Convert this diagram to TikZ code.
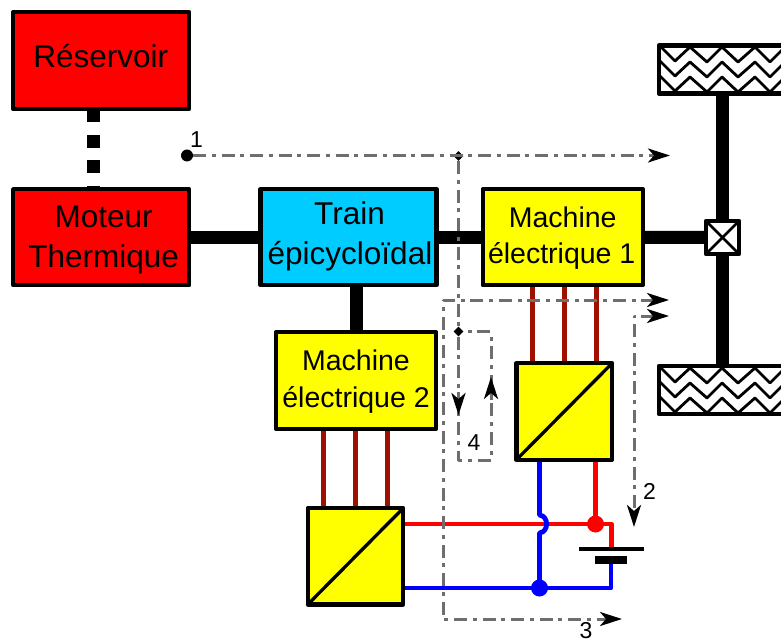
\documentclass[tikz,border=0pt]{standalone}
\usepackage{fontspec}
\setmainfont{Liberation Sans}
\usetikzlibrary{arrows.meta,shapes.geometric}
\definecolor{wirered}{HTML}{A01000}
\definecolor{pathgrey}{HTML}{6E6E6E}
\definecolor{traincyan}{HTML}{00CCFF}
\definecolor{boxyellow}{HTML}{FFFF00}
\definecolor{boxred}{HTML}{FF0000}
\definecolor{wireblue}{HTML}{0000FF}
\newcommand{\lineat}[3]{\makebox[0pt]{\raisebox{#2}[0pt][0pt]{\hspace*{#1}#3}}}
\tikzset{
  x=1pt,y=-1pt,
  headend/.tip={Stealth[length=22pt,width=14pt,inset=6pt,black]},
  boxbase/.style={draw=black,line width=4.3pt,line join=round,inner sep=0pt,align=center},
  bigbox/.style={boxbase,font=\fontsize{31.5}{40}\selectfont,minimum width=176pt,minimum height=96pt},
  redbox/.style={bigbox,fill=boxred},
  cyanbox/.style={bigbox,fill=traincyan},
  machbox/.style={boxbase,fill=boxyellow,font=\fontsize{28.5}{36}\selectfont,minimum width=160pt,minimum height=96pt},
  convbox/.style={boxbase,fill=boxyellow,minimum width=95.6pt,minimum height=96.5pt},
  diag/.style={line width=3.3pt,shorten >=2pt,shorten <=2pt},
  shaft/.style={line width=13pt,black},
  shaftdot/.style={line width=13pt,black,dash pattern=on 13pt off 12.5pt,dash phase=2pt},
  phase/.style={line width=5pt,wirered},
  redwire/.style={line width=4.8pt,boxred,line join=round},
  bluewire/.style={line width=4.8pt,wireblue,line join=round},
  plate/.style={fill=black,inner sep=0pt,draw=none},
  joint/.style={circle,inner sep=0pt,minimum size=17pt},
  grey/.style={line width=3pt,pathgrey,dash pattern=on 13pt off 5.5pt on 4pt off 6pt,line join=round},
  greysolid/.style={line width=3pt,pathgrey},
  numlabel/.style={font=\fontsize{23}{23}\selectfont,inner sep=0pt},
  wheelbox/.style={draw=black,line width=4.3pt,line join=round,minimum width=131pt,minimum height=48pt,inner sep=0pt},
  zig/.style={line width=2.8pt,black,line join=round},
  diff/.style={draw=black,fill=white,line width=4.3pt,line join=round,minimum size=33pt,inner sep=0pt},
}
\newcommand{\zigzags}[1]{%
  \begin{scope}[shift={(0,#1)}]
    \clip (659,45) rectangle (790,94);
    \foreach \d in {0,15,30} {
      \draw[zig] (659,45+\d) -- (675,61+\d) -- (690,47+\d) -- (707,62+\d) -- (722,47+\d)
        -- (738,62+\d) -- (755,47+\d) -- (770,62+\d) -- (785,47+\d);
    }
  \end{scope}}
\begin{document}
\begin{tikzpicture}
\clip (0,0) rectangle (781,644);
\zigzags{0}
\zigzags{321}
\node[wheelbox] (wheelA) at (724.4,69.5) {};
\node[wheelbox] (wheelB) at (724.4,390) {};
\node[diff] (dif) at (722.5,237.5) {};
\draw[diag,line width=2.8pt] (dif.south west) -- (dif.north east);
\draw[diag,line width=2.8pt] (dif.north west) -- (dif.south east);
\node[redbox,minimum height=97pt] (res) at (101.2,60.5) {\lineat{-1pt}{-7.2pt}{Réservoir}};
\node[redbox] (mot) at (101.2,237.2) {\lineat{4.8pt}{9.5pt}{Moteur}\lineat{4.8pt}{-30.5pt}{Thermique}};
\node[cyanbox] (train) at (348.5,237.2) {\lineat{2pt}{12.9pt}{Train}\lineat{3pt}{-27.1pt}{épicycloïdal}};
\node[machbox] (me1) at (562.7,237.2) {\lineat{0pt}{9.9pt}{Machine}\lineat{-2pt}{-26.1pt}{électrique 1}};
\node[machbox,minimum height=96.8pt] (me2) at (356,380.5) {\lineat{0pt}{10.5pt}{Machine}\lineat{0pt}{-26.8pt}{électrique 2}};
\node[convbox] (c1) at (564.25,411.5) {};
\node[convbox] (c2) at (355.5,556.3) {};
\draw[diag] (c1.south west) -- (c1.north east);
\draw[diag] (c2.south west) -- (c2.north east);
% shafts
\coordinate (sx) at (93,0);
\draw[shaftdot] (res.south -| sx) -- (mot.north -| sx);
\draw[shaft] (mot) -- (train);
\draw[shaft] (train) -- (me1);
\draw[shaft] (me1) -- (dif);
\draw[shaft] (train.south -| me2) -- (me2);
\draw[shaft] (dif) -- (dif |- wheelA.south);
\draw[shaft] (dif) -- (dif |- wheelB.north);
% three-phase wires
\foreach \dx in {-32,0,32} {
  \draw[phase] ([xshift=\dx pt]c1.north) -- ([xshift=\dx pt]c1.north |- me1.south);
  \draw[phase] ([xshift=\dx pt]c2.north) -- ([xshift=\dx pt]c2.north |- me2.south);
}
% battery and DC wiring
\node[plate,minimum width=65pt,minimum height=3.5pt] (platepos) at (611.5,549) {};
\node[plate,minimum width=32pt,minimum height=8pt] (plateneg) at (611,560) {};
\coordinate (redjn) at (595.5,524);
\coordinate (bluejn) at (539.5,588);
\coordinate (hopa) at (539.5,515);
\coordinate (hopb) at (539.5,533);
\draw[redwire] (c2.east |- redjn) -- (redjn -| platepos.north) -- (platepos.north);
\draw[redwire] (redjn) -- (redjn |- c1.south);
\draw[bluewire] (c2.east |- bluejn) -- (bluejn -| plateneg.south) -- (plateneg.south);
\draw[bluewire] (bluejn) -- (hopb) .. controls (549,532) and (549,516) .. (hopa) -- (hopa |- c1.south);
\node[joint,fill=boxred] (reddot) at (redjn) {};
\node[joint,fill=wireblue] (bluedot) at (bluejn) {};
% power flow paths
\node[circle,fill=black,inner sep=0pt,minimum size=12pt] (start) at (187,155.5) {};
\node[diamond,fill=black,inner sep=0pt,minimum size=10pt] (da) at (458.5,156) {};
\node[diamond,fill=black,inner sep=0pt,minimum size=10pt] (db) at (458.5,331.5) {};
\coordinate (e1) at (670,155.5);
\coordinate (e2a) at (669,316);
\coordinate (e2b) at (634,527);
\coordinate (e3a) at (669,300);
\coordinate (e3b) at (622,619);
\coordinate (c4a) at (458.5,460);
\coordinate (c4b) at (491,460);
\coordinate (c4c) at (491,331.5);
\coordinate (h4a) at (458.5,415);
\coordinate (h4as) at (458.5,392);
\coordinate (h4b) at (491,377);
\coordinate (h4bs) at (491,400);
\draw[grey,-{headend}] (start) -- (e1);
\draw[grey] (da) -- (db);
\draw[grey] (db) -- (c4a) -- (c4b) -- (c4c) -- (db);
\draw[greysolid,-{headend}] (h4as) -- (h4a);
\draw[greysolid,-{headend}] (h4bs) -- (h4b);
\draw[grey,{headend}-{headend}] (e3a) -- (443,300) -- (443,619) -- (e3b);
\draw[grey,{headend}-{headend}] (e2a) -- (634,316) -- (e2b);
% labels
\node[numlabel] (n1) at (196.5,140) {1};
\node[numlabel] (n2) at (649.5,491) {2};
\node[numlabel] (n3) at (586,631) {3};
\node[numlabel] (n4) at (474,443) {4};
\end{tikzpicture}
\end{document}
